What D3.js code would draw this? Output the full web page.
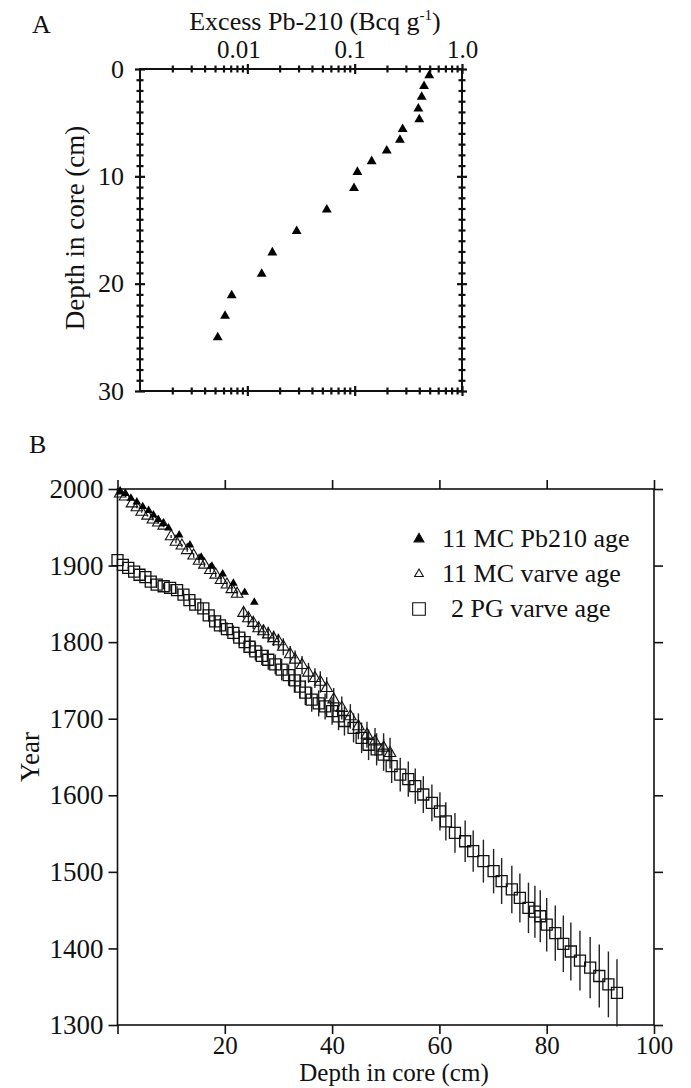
<!DOCTYPE html>
<html>
<head>
<meta charset="utf-8">
<script src="https://cdn.jsdelivr.net/npm/d3@7"></script>
<style>
  body { margin: 0; background: white; }
  text { font-family: "Liberation Serif", "Times New Roman", serif; fill: #111; }
</style>
</head>
<body>
<div id="container"></div>
<script>
let w = 691;
let h = 1088;

// ---- panel A: excess Pb-210 vs depth (11 MC)
let pbProfileDepth = [0.6, 1.6, 2.6, 3.7, 4.7, 5.6, 6.6, 7.6, 8.6, 9.6, 11.1, 13.1, 15.1, 17.1, 19.1, 21.1, 23.0, 25.0];
let pbProfileExcess = [0.495, 0.443, 0.421, 0.392, 0.40, 0.280, 0.264, 0.199, 0.144, 0.106, 0.0986, 0.055, 0.0288, 0.0171, 0.0136, 0.00715, 0.0062, 0.0053];

let xTicksA = [0.01, 0.1, 1];
let xTickLabelsA = ["0.01", "0.1", "1.0"];
let yTicksA = [0, 10, 20, 30];

// ---- panel B: age-depth
let pbAgeDepth = [0.5, 1.5, 2.5, 3.6, 4.7, 5.8, 6.7, 7.6, 8.5, 9.5, 11.5, 13.5, 15.6, 17.6, 19.6, 21.6, 23.7, 25.5];
let pbAgeYear = [1996, 1994, 1988, 1983, 1977, 1972, 1966, 1960, 1955, 1949, 1940, 1927, 1911, 1899, 1889, 1877, 1865, 1852];

let mcVarveDepth = [0.5, 1.4, 2.7, 3.6, 4.5, 5.6, 6.6, 7.6, 8.6, 10.0, 10.9, 12.0, 13.0, 14.2, 15.2, 16.2, 17.3, 18.3, 19.3, 20.4, 21.3, 22.3,
  23.5, 24.4, 25.3, 26.3, 27.2, 28.1, 29.1, 30.0, 30.9, 32.2, 33.1, 34.4, 35.6, 36.8, 37.8, 39.0, 40.3, 41.8, 43.4, 44.9, 46.5, 48.0, 49.6, 50.8];
let mcVarveYear = [1994, 1990, 1981, 1976, 1970, 1965, 1960, 1956, 1952, 1938, 1931, 1926, 1920, 1913, 1906, 1901, 1894, 1888, 1881, 1875, 1869, 1863,
  1838, 1831, 1825, 1818, 1814, 1810, 1805, 1801, 1794, 1784, 1777, 1770, 1760, 1753, 1748, 1740, 1725, 1714, 1703, 1690, 1679, 1670, 1662, 1655];
let mcVarveErr = [0, 0, 0, 1, 1, 1, 1, 1, 2, 2, 2, 2, 2, 3, 3, 3, 3, 3, 4, 4, 4, 4,
  7, 8, 8, 9, 9, 10, 10, 10, 11, 11, 12, 12, 13, 13, 14, 14, 15, 15, 16, 17, 17, 18, 19, 20];

let pgVarveDepth = [0.0, 1.0, 2.0, 3.1, 4.1, 5.2, 6.2, 7.3, 8.6, 9.8, 11.1, 12.3, 13.4, 14.5, 16.0, 17.0, 18.2, 19.1, 20.4, 21.6,
  22.7, 23.7, 24.6, 25.7, 26.9, 28.1, 29.4, 30.6, 31.9, 33.1, 34.0, 35.0, 36.2, 37.5, 38.7, 40.0, 41.2, 42.3, 44.0, 45.5,
  46.8, 48.3, 49.6, 51.1, 52.7, 54.2, 55.5, 57.0, 58.6, 60.1, 61.2, 62.9, 64.8, 66.3, 68.2, 70.1, 71.6, 73.5, 75.0, 76.6,
  77.8, 78.8, 80.0, 81.6, 83.1, 84.5, 86.2, 88.1, 89.8, 91.5, 93.1];
let pgVarveYear = [1907, 1901, 1897, 1892, 1888, 1885, 1879, 1875, 1873, 1871, 1868, 1862, 1855, 1849, 1844, 1835, 1827, 1822, 1817, 1812,
  1806, 1800, 1794, 1788, 1782, 1777, 1771, 1764, 1757, 1750, 1742, 1734, 1725, 1720, 1716, 1710, 1703, 1697, 1688, 1675,
  1666, 1660, 1653, 1638, 1627, 1621, 1612, 1601, 1590, 1579, 1566, 1551, 1540, 1527, 1514, 1501, 1488, 1477, 1466, 1453,
  1448, 1442, 1431, 1420, 1406, 1396, 1384, 1375, 1364, 1353, 1342];
let pgVarveErr = [0, 1, 1, 2, 2, 3, 3, 4, 4, 5, 5, 6, 6, 7, 7, 8, 8, 9, 9, 10,
  10, 11, 11, 12, 12, 13, 13, 14, 14, 15, 15, 16, 16, 17, 17, 18, 18, 19, 19, 20,
  20, 21, 21, 22, 22, 23, 23, 24, 24, 25, 25, 26, 27, 27, 28, 29, 30, 31, 32, 33,
  34, 34, 35, 36, 37, 38, 39, 40, 41, 43, 44];

let xTicksB = [20, 40, 60, 80, 100];
let yTicksB = [1300, 1400, 1500, 1600, 1700, 1800, 1900, 2000];
let legendLabels = ["11 MC Pb210 age", "11 MC varve age", "2 PG varve age"];

let viz = d3.select("#container")
  .append("svg")
    .attr("width", w)
    .attr("height", h)
    .style("background-color", "white")
;

// ================= PANEL A =================
let xA = d3.scaleLog().domain([0.001, 1]).range([140, 462]);
let yA = d3.scaleLinear().domain([0, 30]).range([69, 391]);

let minorLogTicks = [];
[0.001, 0.01, 0.1].forEach(function(dec) {
  for (let k = 2; k <= 9; k++) minorLogTicks.push(dec * k);
});
let minorDepthTicks = d3.range(0, 31).filter(function(d) { return d % 10 != 0; });

let panelA = viz.append("g").attr("class", "panelA");

panelA.append("rect")
  .attr("x", xA.range()[0]).attr("y", yA.range()[0])
  .attr("width", xA.range()[1] - xA.range()[0])
  .attr("height", yA.range()[1] - yA.range()[0])
  .attr("fill", "none").attr("stroke", "#111").attr("stroke-width", 2);

// make the ticks cross the frame (in and out)
function crossTicks(g) {
  g.select(".domain").remove();
  g.selectAll(".tick line").attr("stroke", "#111").attr("stroke-width", 2.2);
  g.selectAll(".tick line").each(function() {
    let l = d3.select(this);
    if (l.attr("x2") != null && +l.attr("x2") != 0) l.attr("x1", -l.attr("x2"));
    if (l.attr("y2") != null && +l.attr("y2") != 0) l.attr("y1", -l.attr("y2"));
  });
}

// top (log) axis
panelA.append("g").attr("transform", "translate(0,69)")
  .call(d3.axisTop(xA).tickValues(minorLogTicks).tickSize(3.5).tickFormat(""))
  .call(crossTicks);
let topLabelShift = [-9, -5, 0];
panelA.append("g").attr("transform", "translate(0,69)")
  .call(d3.axisTop(xA).tickValues(xTicksA).tickSize(5).tickPadding(6)
    .tickFormat(function(d, i) { return xTickLabelsA[i]; }))
  .call(crossTicks)
  .selectAll("text")
    .attr("font-size", 25).attr("font-family", "Liberation Serif")
    .attr("dx", function(d, i) { return topLabelShift[i]; });
// bottom
panelA.append("g").attr("transform", "translate(0,391)")
  .call(d3.axisBottom(xA).tickValues(minorLogTicks).tickSize(3.5).tickFormat(""))
  .call(crossTicks);
panelA.append("g").attr("transform", "translate(0,391)")
  .call(d3.axisBottom(xA).tickValues(xTicksA).tickSize(5).tickFormat(""))
  .call(crossTicks);
// left
panelA.append("g").attr("transform", "translate(140,0)")
  .call(d3.axisLeft(yA).tickValues(minorDepthTicks).tickSize(3.5).tickFormat(""))
  .call(crossTicks);
panelA.append("g").attr("transform", "translate(140,0)")
  .call(d3.axisLeft(yA).tickValues(yTicksA).tickSize(5).tickPadding(11))
  .call(crossTicks)
  .selectAll("text").attr("font-size", 26).attr("font-family", "Liberation Serif");
// right
panelA.append("g").attr("transform", "translate(462,0)")
  .call(d3.axisRight(yA).tickValues(minorDepthTicks).tickSize(3.5).tickFormat(""))
  .call(crossTicks);
panelA.append("g").attr("transform", "translate(462,0)")
  .call(d3.axisRight(yA).tickValues(yTicksA).tickSize(5).tickFormat(""))
  .call(crossTicks);

panelA.selectAll(".pbpt").data(pbProfileDepth).enter()
  .append("path")
    .attr("class", "pbpt")
    .attr("d", d3.symbol(d3.symbolTriangle, 42))
    .attr("fill", "#000")
    .attr("transform", function(d, i) {
      return "translate(" + xA(pbProfileExcess[i]) + "," + yA(d) + ")";
    });

let titleA = panelA.append("text")
  .attr("x", 315).attr("y", 30)
  .attr("text-anchor", "middle").attr("font-size", 26);
titleA.append("tspan").text("Excess Pb-210 (Bcq g");
titleA.append("tspan").attr("font-size", 15).attr("dy", -10).text("-1");
titleA.append("tspan").attr("dy", 10).text(")");

panelA.append("text")
  .attr("transform", "translate(84,228) rotate(-90)")
  .attr("text-anchor", "middle").attr("font-size", 27)
  .text("Depth in core (cm)");

viz.append("text").attr("x", 32).attr("y", 33).attr("font-size", 26).text("A");

// ================= PANEL B =================
let xB = d3.scaleLinear().domain([0, 100]).range([117.5, 654]);
let yB = d3.scaleLinear().domain([1300, 2000]).range([1025, 489]);

let panelB = viz.append("g").attr("class", "panelB");

function plainTicks(g) {
  g.select(".domain").remove();
  g.selectAll(".tick line").attr("stroke", "#111").attr("stroke-width", 1.6);
}

panelB.append("g").attr("transform", "translate(117.5,0)")
  .call(d3.axisLeft(yB).tickValues(yTicksB).tickSize(9).tickPadding(5).tickFormat(d3.format("d")))
  .call(plainTicks)
  .selectAll("text").attr("font-size", 27).attr("font-family", "Liberation Serif");
panelB.append("g").attr("transform", "translate(654,0)")
  .call(d3.axisRight(yB).tickValues(yTicksB).tickSize(9).tickFormat(""))
  .call(plainTicks);
panelB.append("g").attr("transform", "translate(0,1025)")
  .call(d3.axisBottom(xB).tickValues([0].concat(xTicksB)).tickSize(9).tickPadding(2)
    .tickFormat(function(d) { return d == 0 ? "" : d; }))
  .call(plainTicks)
  .selectAll("text").attr("font-size", 25).attr("font-family", "Liberation Serif");
panelB.append("g").attr("transform", "translate(0,489)")
  .call(d3.axisTop(xB).tickValues([0].concat(xTicksB)).tickSize(9).tickFormat(""))
  .call(plainTicks);

panelB.append("rect")
  .attr("x", 117.5).attr("y", 489)
  .attr("width", 654 - 117.5).attr("height", 1025 - 489)
  .attr("fill", "none").attr("stroke", "#111").attr("stroke-width", 1.6);

// error bars
let errGroup = panelB.append("g").attr("stroke", "#222").attr("stroke-width", 1.4);
errGroup.selectAll(".pgerr").data(pgVarveDepth).enter()
  .append("line").attr("class", "pgerr")
    .attr("x1", function(d) { return xB(d); })
    .attr("x2", function(d) { return xB(d); })
    .attr("y1", function(d, i) { return yB(pgVarveYear[i] + pgVarveErr[i]); })
    .attr("y2", function(d, i) { return yB(pgVarveYear[i] - pgVarveErr[i]); });
errGroup.selectAll(".mcerr").data(mcVarveDepth).enter()
  .append("line").attr("class", "mcerr")
    .attr("x1", function(d) { return xB(d); })
    .attr("x2", function(d) { return xB(d); })
    .attr("y1", function(d, i) { return yB(mcVarveYear[i] + mcVarveErr[i]); })
    .attr("y2", function(d, i) { return yB(mcVarveYear[i] - mcVarveErr[i]); });

panelB.selectAll(".pgpt").data(pgVarveDepth).enter()
  .append("path").attr("class", "pgpt")
    .attr("d", d3.symbol(d3.symbolSquare, 121))
    .attr("fill", "none").attr("stroke", "#111").attr("stroke-width", 1.3)
    .attr("transform", function(d, i) { return "translate(" + xB(d) + "," + yB(pgVarveYear[i]) + ")"; });

panelB.selectAll(".mcpt").data(mcVarveDepth).enter()
  .append("path").attr("class", "mcpt")
    .attr("d", d3.symbol(d3.symbolTriangle, 58))
    .attr("fill", "none").attr("stroke", "#111").attr("stroke-width", 1.1)
    .attr("transform", function(d, i) { return "translate(" + xB(d) + "," + yB(mcVarveYear[i]) + ")"; });

panelB.selectAll(".pbagept").data(pbAgeDepth).enter()
  .append("path").attr("class", "pbagept")
    .attr("d", d3.symbol(d3.symbolTriangle, 32))
    .attr("fill", "#000")
    .attr("transform", function(d, i) { return "translate(" + xB(d) + "," + yB(pbAgeYear[i]) + ")"; });

// legend
let legendY = [547, 582, 617];
let legendMarkers = [
  { shape: d3.symbolTriangle, size: 42, fill: "#000" },
  { shape: d3.symbolTriangle, size: 32, fill: "none" },
  { shape: d3.symbolSquare, size: 160, fill: "none" }
];
let legendTextX = [442, 442, 451];
let legend = panelB.append("g").attr("class", "legend");
legendLabels.forEach(function(label, i) {
  legend.append("path")
    .attr("d", d3.symbol(legendMarkers[i].shape, legendMarkers[i].size))
    .attr("fill", legendMarkers[i].fill)
    .attr("stroke", "#111").attr("stroke-width", 1.1)
    .attr("transform", "translate(419," + (legendY[i] - 8) + ")");
  legend.append("text")
    .attr("x", legendTextX[i]).attr("y", legendY[i])
    .attr("font-size", 26)
    .text(label);
});

panelB.append("text")
  .attr("x", 394).attr("y", 1081)
  .attr("text-anchor", "middle").attr("font-size", 25)
  .text("Depth in core (cm)");
panelB.append("text")
  .attr("transform", "translate(39,757) rotate(-90)")
  .attr("text-anchor", "middle").attr("font-size", 27)
  .text("Year");

viz.append("text").attr("x", 29).attr("y", 453).attr("font-size", 26).text("B");
</script>
</body>
</html>
